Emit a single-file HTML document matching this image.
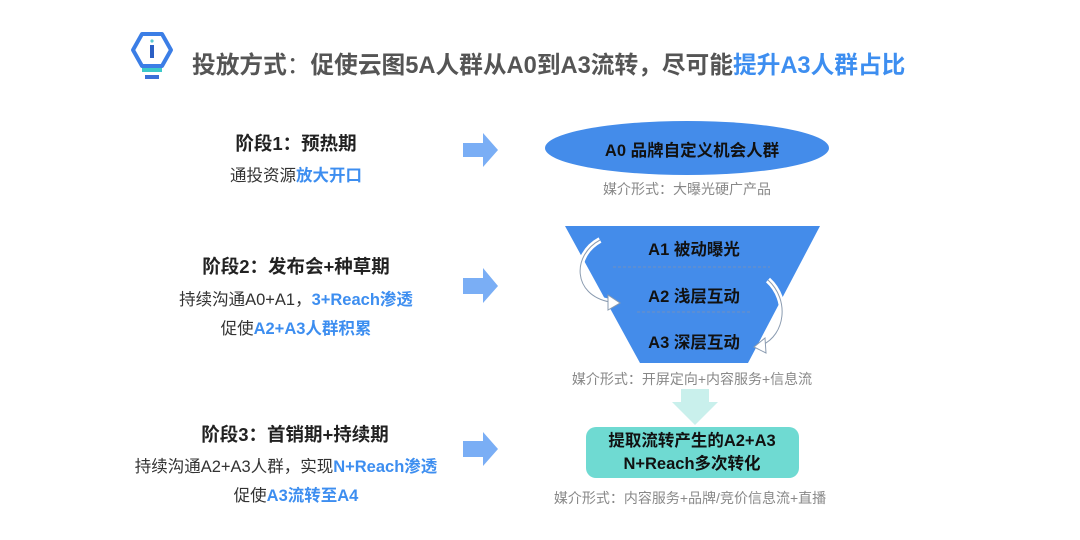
<!DOCTYPE html>
<html><head><meta charset="utf-8"><style>
body{margin:0;width:1080px;height:540px;background:#fff;position:relative;overflow:hidden;font-family:"Liberation Sans","Noto Sans CJK SC",sans-serif;}
.a{position:absolute;white-space:nowrap;}
.c{transform:translateX(-50%);}
.b{font-weight:bold;}
.bl{color:#3d8ef0;font-weight:bold;}
.g{color:#888;font-size:14px;}
</style></head><body>
<svg class="a" style="left:0;top:0" width="1080" height="540">
 <polygon points="142,34 162,34 171,50 162,66 142,66 133,50" fill="none" stroke="#3b7ee6" stroke-width="4" stroke-linejoin="round"/>
 <rect x="150" y="45" width="4" height="13" fill="#2b5fc4"/>
 <circle cx="152" cy="41" r="1.6" fill="#59c7d0"/>
 <rect x="142" y="68" width="20" height="4" fill="#3cc9c9"/>
 <rect x="145" y="75" width="14" height="4" fill="#3b6fd8"/>
 <g fill="#7aaef5">
  <polygon points="463,143 483,143 483,133 498,150 483,167 483,157 463,157"/>
  <polygon points="463,278 483,278 483,268 498,286 483,303 483,294 463,294"/>
  <polygon points="463,441 483,441 483,432 498,449 483,466 483,457 463,457"/>
 </g>
 <ellipse cx="687" cy="148" rx="142" ry="27" fill="#448cea"/>
 <polygon points="565,226 820,226 748,363 640,363" fill="#448cea"/>
 <line x1="613" y1="267" x2="770" y2="267" stroke="#6f8fc0" stroke-dasharray="3,2" stroke-width="1"/>
 <line x1="637" y1="312" x2="750" y2="312" stroke="#6f8fc0" stroke-dasharray="3,2" stroke-width="1"/>
 <path d="M600,240 C572,255 572,295 610,302" fill="none" stroke="#fff" stroke-width="6"/>
 <path d="M600,240 C572,255 572,295 610,302" fill="none" stroke="#8a9bb0" stroke-width="1"/>
 <polygon points="608,295 620,303 608,310" fill="#fff" stroke="#8a9bb0"/>
 <path d="M768,280 C790,300 785,335 762,345" fill="none" stroke="#fff" stroke-width="6"/>
 <path d="M768,280 C790,300 785,335 762,345" fill="none" stroke="#8a9bb0" stroke-width="1"/>
 <polygon points="765,338 754,347 766,353" fill="#fff" stroke="#8a9bb0"/>
 <polygon points="681,389 709,389 709,402 718,402 695,425 672,402 681,402" fill="#c9f0ec"/>
 <rect x="586" y="427" width="213" height="51" rx="10" fill="#6fdad2"/>
</svg>
<div class="a b" style="left:192px;top:46px;font-size:23.7px;color:#555;">投放方式<span style="font-weight:normal">：</span>促使云图5A人群从A0到A3流转，尽可能<span class="bl" style="color:#3d8ef0">提升A3人群占比</span></div>

<div class="a c b" style="left:296px;top:130px;font-size:18.5px;color:#222;">阶段1：预热期</div>
<div class="a c" style="left:296px;top:162px;font-size:16.5px;color:#333;">通投资源<span class="bl">放大开口</span></div>

<div class="a c b" style="left:296px;top:253px;font-size:18.5px;color:#222;">阶段2：发布会+种草期</div>
<div class="a c" style="left:296px;top:286px;font-size:16.5px;color:#333;">持续沟通A0+A1，<span class="bl">3+Reach渗透</span></div>
<div class="a c" style="left:296px;top:315px;font-size:16.5px;color:#333;">促使<span class="bl">A2+A3人群积累</span></div>

<div class="a c b" style="left:295px;top:421px;font-size:18.5px;color:#222;">阶段3：首销期+持续期</div>
<div class="a c" style="left:286px;top:453px;font-size:16.5px;color:#333;">持续沟通A2+A3人群，实现<span class="bl">N+Reach渗透</span></div>
<div class="a c" style="left:296px;top:482px;font-size:16.5px;color:#333;">促使<span class="bl">A3流转至A4</span></div>

<div class="a c b" style="left:692px;top:137px;font-size:16.5px;color:#111;">A0 品牌自定义机会人群</div>
<div class="a c g" style="left:687px;top:179px;">媒介形式：大曝光硬广产品</div>
<div class="a c b" style="left:694px;top:236px;font-size:16.5px;color:#111;">A1 被动曝光</div>
<div class="a c b" style="left:694px;top:283px;font-size:16.5px;color:#111;">A2 浅层互动</div>
<div class="a c b" style="left:694px;top:329px;font-size:16.5px;color:#111;">A3 深层互动</div>
<div class="a c g" style="left:692px;top:369px;">媒介形式：开屏定向+内容服务+信息流</div>
<div class="a c b" style="left:692px;top:430px;font-size:16.5px;color:#111;line-height:23px;text-align:center;">提取流转产生的A2+A3<br>N+Reach多次转化</div>
<div class="a c g" style="left:690px;top:488px;">媒介形式：内容服务+品牌/竞价信息流+直播</div>
</body></html>
